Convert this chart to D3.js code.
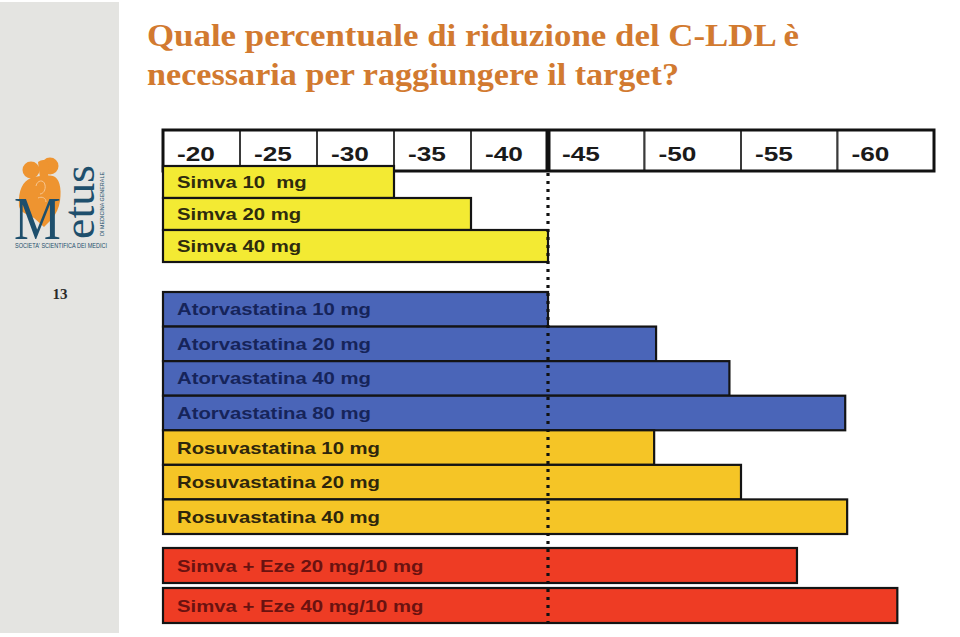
<!DOCTYPE html>
<html>
<head>
<meta charset="utf-8">
<script src="https://cdn.jsdelivr.net/npm/d3@7/dist/d3.min.js"></script>
<style>
  html, body { margin: 0; padding: 0; background: #ffffff; }
  svg { display: block; }
</style>
</head>
<body>
<svg id="chart" width="960" height="637"></svg>
<script>
// ---------------- DATA ----------------
const titleLines = ["Quale percentuale di riduzione del C-LDL è", "necessaria per raggiungere il target?"];
const ticks = [-20, -25, -30, -35, -40, -45, -50, -55, -60];
const tickLabels = ["-20", "-25", "-30", "-35", "-40", "-45", "-50", "-55", "-60"];
const drugs = [
  "Simva 10  mg", "Simva 20 mg", "Simva 40 mg",
  "Atorvastatina 10 mg", "Atorvastatina 20 mg", "Atorvastatina 40 mg", "Atorvastatina 80 mg",
  "Rosuvastatina 10 mg", "Rosuvastatina 20 mg", "Rosuvastatina 40 mg",
  "Simva + Eze 20 mg/10 mg", "Simva + Eze 40 mg/10 mg"
];
const groups = [
  "Simva", "Simva", "Simva",
  "Atorva", "Atorva", "Atorva", "Atorva",
  "Rosuva", "Rosuva", "Rosuva",
  "Eze", "Eze"
];
const reductions = [-30, -35, -40, -40, -45.6, -49.4, -55.4, -45.5, -50, -55.5, -52.9, -58.1];
const targetValue = -40;
const pageNumber = "13";

// ---------------- STYLE / LAYOUT ----------------
const fill = { Simva: "#f3ea33", Atorva: "#4a65b8", Rosuva: "#f5c526", Eze: "#ee3c24" };
const ink = { Simva: "#2e2b0e", Atorva: "#16245a", Rosuva: "#2e260c", Eze: "#6a1210" };
const blockOf = { Simva: 0, Atorva: 1, Rosuva: 1, Eze: 2 };
const blockRanges = [[166, 262], [292, 534], [548, 623]];
const blockPadding = [0, 0, 0.125];

const svg = d3.select("#chart");

// left grey panel
svg.append("rect").attr("x", 0).attr("y", 2).attr("width", 119).attr("height", 631).attr("fill", "#e4e4e1");

// logo (approximation)
const logo = svg.append("g");
const orange = "#ee9430", teal = "#1e4f6c";
logo.append("path")
  .attr("d", "M19,206 C18,190 23,181 31,178 C37,176 46,175 53,176 C59,178 62,187 60,201 C59,208 56,214 52,219 L44,227 L34,218 C26,214 20,212 19,206 Z")
  .attr("fill", orange);
logo.append("circle").attr("cx", 31).attr("cy", 170).attr("r", 8.5).attr("fill", orange);
logo.append("circle").attr("cx", 50).attr("cy", 166).attr("r", 8.5).attr("fill", orange);
logo.append("path").attr("d", "M38,162 C43,158 48,160 49,166 L48,178 L40,178 Z").attr("fill", orange);
logo.append("path")
  .attr("d", "M36,186 C37,180 44,179 45,185 C46,190 43,194 40,194 M38,198 C42,196 46,198 46,202")
  .attr("fill", "none").attr("stroke", "#f7c690").attr("stroke-width", 1);
logo.append("text").attr("x", 14).attr("y", 239)
  .attr("font-family", "Liberation Serif, serif").attr("font-size", 62).attr("fill", teal)
  .attr("transform", "translate(14,239) scale(0.85,1) translate(-14,-239)")
  .text("M");
logo.append("text").attr("transform", "translate(94,239) rotate(-90)")
  .attr("font-family", "Liberation Serif, serif").attr("font-size", 44).attr("fill", teal)
  .attr("textLength", 74).attr("lengthAdjust", "spacingAndGlyphs")
  .text("etus");
logo.append("text").attr("transform", "translate(104,236) rotate(-90)")
  .attr("font-family", "Liberation Sans, sans-serif").attr("font-size", 6).attr("fill", teal)
  .attr("textLength", 64).attr("lengthAdjust", "spacingAndGlyphs")
  .text("DI MEDICINA GENERALE");
logo.append("text").attr("x", 15).attr("y", 248)
  .attr("font-family", "Liberation Sans, sans-serif").attr("font-size", 6.5).attr("fill", teal)
  .attr("textLength", 92).attr("lengthAdjust", "spacingAndGlyphs")
  .text("SOCIETA' SCIENTIFICA DEI MEDICI");

svg.append("text").attr("x", 60).attr("y", 299).attr("text-anchor", "middle")
  .attr("font-family", "Liberation Serif, serif").attr("font-size", 15).attr("font-weight", "bold")
  .attr("fill", "#2a2a2a").text(pageNumber);

// title
const titleW = [652, 532];
titleLines.forEach((t, i) => {
  svg.append("text").attr("x", 147).attr("y", 46 + i * 39)
    .attr("font-family", "Liberation Serif, serif").attr("font-weight", "bold").attr("font-size", 32)
    .attr("fill", "#d27a30")
    .attr("textLength", titleW[i]).attr("lengthAdjust", "spacingAndGlyphs")
    .text(t);
});

// scales: piecewise linear (left half and right half have different spacing)
const x = d3.scaleLinear().domain([-15, -40, -60]).range([163, 548, 934]);
const yScales = blockRanges.map((r, bi) =>
  d3.scaleBand()
    .domain(drugs.filter((d, i) => blockOf[groups[i]] === bi))
    .range(r)
    .paddingInner(blockPadding[bi])
    .paddingOuter(0)
);
const rows = drugs.map((d, i) => ({ drug: d, group: groups[i], value: reductions[i] }));
const yOf = d => yScales[blockOf[d.group]](d.drug);
const hOf = d => yScales[blockOf[d.group]].bandwidth();

// header axis row
const headerTop = 130, headerBottom = 171;
const header = svg.append("g");
const cells = ticks.map((t, i) => ({ t, label: tickLabels[i] }));
header.selectAll("rect.cell").data(cells).join("rect")
  .attr("class", "cell")
  .attr("x", d => x(d.t + 5)).attr("y", headerTop)
  .attr("width", d => x(d.t) - x(d.t + 5)).attr("height", headerBottom - headerTop)
  .attr("fill", "#ffffff").attr("stroke", "#3a3a3a").attr("stroke-width", 2);
header.append("rect")
  .attr("x", x(-15)).attr("y", headerTop)
  .attr("width", x(-60) - x(-15)).attr("height", headerBottom - headerTop)
  .attr("fill", "none").attr("stroke", "#111").attr("stroke-width", 3);
header.selectAll("text.tick").data(cells).join("text")
  .attr("class", "tick")
  .attr("transform", d => `translate(${x(d.t + 5) + 14},${headerTop + 31}) scale(1.25,1)`)
  .attr("font-family", "Liberation Sans, Arial, sans-serif").attr("font-weight", "bold").attr("font-size", 21)
  .attr("fill", "#1a1a1a")
  .text(d => d.label);

// bars
const bars = svg.append("g");
bars.selectAll("rect").data(rows).join("rect")
  .attr("x", x(-15)).attr("y", d => yOf(d))
  .attr("width", d => x(d.value) - x(-15)).attr("height", d => hOf(d))
  .attr("fill", d => fill[d.group])
  .attr("stroke", "#141414").attr("stroke-width", 2.2);
bars.selectAll("text").data(rows).join("text")
  .attr("transform", d => `translate(177,${yOf(d) + hOf(d) / 2 + 6}) scale(1.27,1)`)
  .attr("font-family", "Liberation Sans, Arial, sans-serif").attr("font-weight", "bold").attr("font-size", 16)
  .attr("fill", d => ink[d.group])
  .style("white-space", "pre")
  .attr("xml:space", "preserve")
  .text(d => d.drug);

// target line: solid in the header, dotted below
svg.append("line")
  .attr("x1", x(targetValue)).attr("x2", x(targetValue))
  .attr("y1", headerTop - 1).attr("y2", headerBottom + 1)
  .attr("stroke", "#111").attr("stroke-width", 5);
svg.append("line")
  .attr("x1", x(targetValue)).attr("x2", x(targetValue))
  .attr("y1", headerBottom + 2).attr("y2", 628)
  .attr("stroke", "#111").attr("stroke-width", 3.2)
  .attr("stroke-dasharray", "3,5");
</script>
</body>
</html>
